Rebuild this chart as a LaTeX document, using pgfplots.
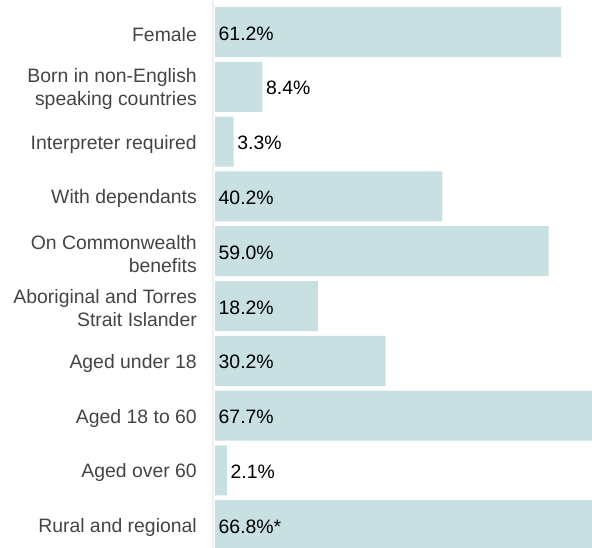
\documentclass[border=0pt]{standalone}
\usepackage{fontspec}
\setmainfont{Liberation Sans}
\usepackage{pgfplots}
\pgfplotsset{compat=1.18}
\definecolor{barc}{HTML}{C8E0E2}
\definecolor{labc}{HTML}{444444}
\begin{document}
\begin{tikzpicture}
\useasboundingbox (0,0) rectangle (592bp,548bp);
\begin{axis}[
  at={(213bp,0bp)}, anchor=south west,
  scale only axis, width=379bp, height=548bp,
  xmin=-0.354, xmax=66.68,
  ymin=-0.584, ymax=9.416, y dir=reverse,
  axis x line=none,
  axis y line*=left,
  y axis line style={draw=black!6, line width=1.5bp, -},
  major tick length=0pt,
  ytick={0,...,9},
  yticklabels={Female, {Born in non-English\\speaking countries}, Interpreter required, With dependants, {On Commonwealth\\benefits}, {Aboriginal and Torres\\Strait Islander}, Aged under 18, Aged 18 to 60, Aged over 60, Rural and regional},
  yticklabel style={font=\fontsize{19.4bp}{23bp}\selectfont, text=labc, align=right, inner sep=0pt, anchor=east, xshift=-16bp, yshift=-2.5bp},
]
\addplot[xbar, bar width=50bp, bar shift=0pt, fill=barc, draw=none] coordinates {
(61.2,0) (8.4,1) (3.3,2) (40.2,3) (59.0,4) (18.2,5) (30.2,6) (67.7,7) (2.1,8) (66.8,9)
};
\addplot[only marks, mark=none, point meta=explicit symbolic, nodes near coords,
  nodes near coords style={anchor=west, inner sep=0pt, xshift=3.5bp, yshift=-1.5bp, font=\fontsize{19.4bp}{23bp}\selectfont, text=black}] coordinates {
(0,0) [61.2\%]
(8.4,1) [8.4\%]
(3.3,2) [3.3\%]
(0,3) [40.2\%]
(0,4) [59.0\%]
(0,5) [18.2\%]
(0,6) [30.2\%]
(0,7) [67.7\%]
(2.1,8) [2.1\%]
(0,9) [66.8\%*]
};
\end{axis}
\end{tikzpicture}
\end{document}
